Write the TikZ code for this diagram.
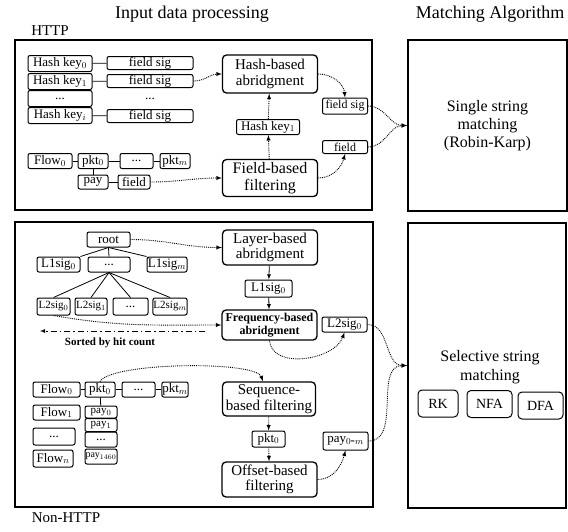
\documentclass[tikz,border=0pt]{standalone}
\usepackage{fontspec}
\setmainfont{LiberationSerif}[Extension=.ttf, UprightFont=*-Regular, BoldFont=*-Bold, ItalicFont=*-Italic, BoldItalicFont=*-BoldItalic]
\usepackage{tikz}

\tikzset{
  frame/.style={draw, line width=1.8pt},
  blk/.style={draw, rounded corners=4pt, line width=1.3pt, minimum width=95, minimum height=36, inner sep=1pt, align=center, font=\fontsize{15}{15.5}\selectfont},
  sm/.style={draw, rounded corners=2pt, line width=1pt, inner sep=0.5pt, minimum height=15, font=\fontsize{13}{14}\selectfont},
  dotarr/.style={->, densely dotted, line width=0.9pt},
  lnk/.style={line width=0.8pt}
}

\begin{document}
\begin{tikzpicture}[x=1pt,y=-1pt,>=latex]
\useasboundingbox (0,0) rectangle (568,531);
% titles
\node[font=\fontsize{18}{19}\selectfont] at (192,14) {Input data processing};
\node[font=\fontsize{18}{19}\selectfont] at (490,14) {Matching Algorithm};
\node[font=\fontsize{15}{16}\selectfont] at (50,31) {HTTP};
\node[font=\fontsize{15}{16}\selectfont] at (66,518) {Non-HTTP};
% frames
\draw[frame] (15,40) rectangle (372,210);
\draw[frame] (15,222) rectangle (373,507);
\node[frame, minimum width=159, minimum height=171, align=center, font=\fontsize{16}{18}\selectfont] (sstr) at (487.5,125.5) {Single string\\matching\\(Robin-Karp)};
\node[frame, minimum width=158, minimum height=285] (sel) at (487,365.5) {};
\node[align=center, font=\fontsize{16}{19}\selectfont] at (490,367) {Selective string\\matching};
\node[sm, font=\fontsize{14}{15}\selectfont, minimum width=40, minimum height=27, rounded corners=4pt] (rk) at (438,403.5) {RK};
\node[sm, font=\fontsize{14}{15}\selectfont, minimum width=45, minimum height=27, rounded corners=4pt] (nfa) at (489.5,404) {NFA};
\node[sm, font=\fontsize{14}{15}\selectfont, minimum width=45, minimum height=27, rounded corners=4pt] (dfa) at (540.5,405.5) {DFA};

%% HTTP part
\node[sm, minimum width=64, minimum height=16] (hk0) at (60,63.5) {Hash key$_0$};
\node[sm, minimum width=64, minimum height=16] (hk1) at (60,81.5) {Hash key$_1$};
\node[sm, minimum width=64, minimum height=16] (hkd) at (60,98.5) {...};
\node[sm, minimum width=64, minimum height=16] (hki) at (60,115.5) {Hash key$_i$};
\node[sm, minimum width=86, minimum height=13] (fs0) at (150,63) {field sig};
\node[sm, minimum width=86, minimum height=13] (fs1) at (150,81) {field sig};
\node[font=\fontsize{13}{14}\selectfont] (fsd) at (150,99) {...};
\node[sm, minimum width=86, minimum height=13] (fsi) at (150,116) {field sig};
\draw[lnk] (hk0) -- (fs0);
\draw[lnk] (hk1) -- (fs1);
\draw[lnk] (hki) -- (fsi);

\node[blk, minimum height=38] (hba) at (270,74) {Hash-based\\abridgment};
\node[sm, minimum width=63] (hkm) at (268,127) {Hash key$_1$};
\node[blk, minimum height=37, font=\fontsize{16}{16.5}\selectfont] (fbf) at (270,178) {Field-based\\filtering};
\node[sm, minimum width=45, minimum height=16, font=\fontsize{12}{13}\selectfont] (fsr) at (345,106) {field sig};
\node[sm, minimum width=45, minimum height=13, font=\fontsize{12}{13}\selectfont] (fld) at (345,147) {field};

\node[sm, minimum width=44] (flw) at (50,161) {Flow$_0$};
\node[sm, minimum width=30] (pkt) at (93,161) {pkt$_0$};
\node[sm, minimum width=33] (pktd) at (136.5,161) {...};
\node[sm, minimum width=30] (pktm) at (175,161) {pkt$_m$};
\node[sm, minimum width=30, minimum height=14] (pay) at (93,182) {pay};
\node[sm, minimum width=32, minimum height=14] (fldl) at (134,182) {field};
\draw[lnk] (flw) -- (pkt);
\draw[lnk] (pkt) -- (pktd);
\draw[lnk] (pktd) -- (pktm);
\draw[lnk] (pkt) -- (pay);
\draw[lnk] (pay) -- (fldl);

\draw[dotarr] (fs1.east) to[out=0,in=180] (hba.west);
\draw[dotarr] (fldl.east) to[out=0,in=180] (fbf.west);
\draw[dotarr] (fbf) -- (hkm);
\draw[dotarr] (hkm) -- (hba);
\draw[dotarr] (hba.east) to[out=0,in=95] (fsr.north);
\draw[dotarr] (fbf.east) to[out=0,in=-105] (fld.south);
\draw[dotarr] (fsr.east) to[out=0,in=180] (sstr.west);
\draw[dotarr] (fld.east) to[out=0,in=180] (sstr.west);

%% Non-HTTP part
\node[sm, minimum width=43] (root) at (108.5,239.5) {root};
\node[sm, minimum width=43] (l1s0) at (58.5,264.5) {L1sig$_0$};
\node[sm, minimum width=42] (l1sd) at (109,264.5) {...};
\node[sm, minimum width=40] (l1sm) at (167,264.5) {L1sig$_m$};
\draw[lnk] (root.south) -- (l1s0.north east);
\draw[lnk] (root.south) -- (l1sd.north);
\draw[lnk] (root.south) -- (l1sm.north west);
\node[sm, minimum width=33, minimum height=17, font=\fontsize{11}{12}\selectfont] (l2s0) at (53.5,306.5) {L2sig$_0$};
\node[sm, minimum width=32, minimum height=17, font=\fontsize{11}{12}\selectfont] (l2s1) at (91,306.5) {L2sig$_1$};
\node[sm, minimum width=35, minimum height=17] (l2sd) at (130.5,306.5) {...};
\node[sm, minimum width=34, minimum height=17, font=\fontsize{11}{12}\selectfont] (l2sm) at (170,306.5) {L2sig$_m$};
\foreach \n in {l2s0,l2s1,l2sd,l2sm}
  \draw[lnk] (l1sd.south) -- (\n.north);

\node[blk, minimum height=35] (lba) at (270,247.5) {Layer-based\\abridgment};
\node[sm, minimum width=47, minimum height=17] (l1m) at (268.5,288.5) {L1sig$_0$};
\node[blk, minimum height=30, font=\fontsize{12}{12.5}\selectfont\bfseries] (fba) at (269.5,325) {Frequency-based\\abridgment};
\node[sm, minimum width=45] (l2r) at (344.5,324.5) {L2sig$_0$};
\draw[dotarr] (root.east) to[out=0,in=180] (lba.west);
\draw[->, lnk] (lba) -- (l1m);
\draw[->, lnk] (l1m) -- (fba);
\draw[dotarr] (l2s0.south) to[out=-10,in=180] (fba.west);
\draw[dotarr] (fba.south) to[out=-85,in=-110] (l2r.south);
\coordinate (sortr) at (205,331);
\coordinate (sortl) at (40,331);
\draw[->, dash pattern=on 6pt off 3pt on 1.5pt off 3pt, line width=0.8pt] (sortr) -- (sortl);
\node[font=\fontsize{11}{12}\selectfont\bfseries] (sort) at (110,343) {Sorted by hit count};

\node[sm, minimum width=47] (flow0) at (56.5,389.5) {Flow$_0$};
\node[sm, minimum width=47] (flow1) at (56.5,412.5) {Flow$_1$};
\node[sm, minimum width=42, minimum height=17] (flowd) at (54,436.5) {...};
\node[sm, minimum width=40, minimum height=17] (flown) at (53,458.5) {Flow$_n$};
\node[sm, minimum width=30] (pkt0) at (100,389.5) {pkt$_0$};
\node[sm, minimum width=33] (pktd0) at (138.5,389.5) {...};
\node[sm, minimum width=26] (pktm0) at (175,389.5) {pkt$_m$};
\node[sm, minimum width=32, minimum height=12, font=\fontsize{11}{12}\selectfont] (pay0) at (101,412) {pay$_0$};
\node[sm, minimum width=32, minimum height=13, font=\fontsize{11}{12}\selectfont] (pay1) at (101,425) {pay$_1$};
\node[sm, minimum width=32, minimum height=15] (payd) at (101,439.5) {...};
\node[sm, minimum width=32, minimum height=15, font=\fontsize{10}{11}\selectfont] (payn) at (101,456.5) {pay$_{1460}$};
\draw[lnk] (flow0) -- (pkt0);
\draw[lnk] (pkt0) -- (pktd0);
\draw[lnk] (pktd0) -- (pktm0);
\draw[lnk] (pkt0) -- (pay0);

\node[blk, minimum width=93, minimum height=34] (sbf) at (269,399) {Sequence-\\based filtering};
\node[sm, minimum width=33, minimum height=16] (pktc) at (268.5,439) {pkt$_0$};
\node[blk, minimum height=35] (obf) at (269.5,479.5) {Offset-based\\filtering};
\node[sm, minimum width=45, minimum height=18] (payr) at (345.5,441) {pay$_{0\mbox{-}m}$};
\draw[dotarr] (pkt0.north) to[out=60,in=110,looseness=0.35] ([xshift=-6pt]sbf.north);
\draw[dotarr] (sbf) -- (pktc);
\draw[dotarr] (pktc) -- (obf);
\draw[dotarr] (obf.east) to[out=0,in=-105] (payr.south);
\draw[dotarr] (l2r.east) to[out=0,in=180] (sel.west);
\draw[dotarr] (payr.east) to[out=0,in=180] (sel.west);
\end{tikzpicture}
\end{document}
